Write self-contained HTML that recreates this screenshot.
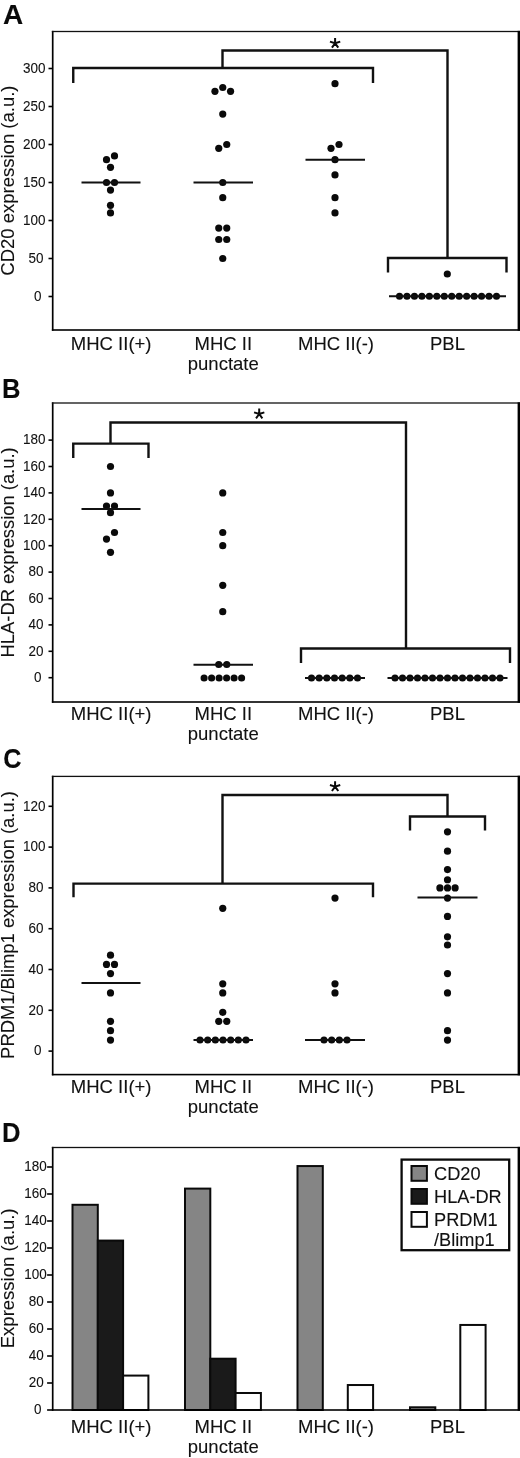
<!DOCTYPE html>
<html><head><meta charset="utf-8"><title>Figure</title>
<style>
html,body{margin:0;padding:0;background:#fff;}
body{width:520px;height:1458px;overflow:hidden;}
svg{display:block;font-family:"Liberation Sans", sans-serif;}
svg text{stroke:#111;stroke-width:0.1px;}
</style></head><body>
<svg width="520" height="1458" viewBox="0 0 520 1458">
<rect width="520" height="1458" fill="#fff"/>
<g opacity="0.999">
<text transform="translate(3.0,24.1) scale(1.0,1)" font-size="28" font-weight="bold" fill="#0a0a0a">A</text>
<rect x="51.85" y="30.85" width="1.7" height="299.9" fill="#000"/>
<rect x="51.85" y="30.85" width="468.15000000000003" height="1.3" fill="#111"/>
<rect x="51.85" y="329.2" width="468.15000000000003" height="1.6" fill="#000"/>
<rect x="517.6" y="30.85" width="2.4" height="299.9" fill="#000"/>
<line x1="48.5" x2="52.7" y1="296.50" y2="296.50" stroke="#000" stroke-width="1.6"/>
<text x="41.6" y="300.70" font-size="14.6" text-anchor="end" fill="#111" textLength="7.5" lengthAdjust="spacingAndGlyphs">0</text>
<line x1="48.5" x2="52.7" y1="258.50" y2="258.50" stroke="#000" stroke-width="1.6"/>
<text x="43.5" y="262.70" font-size="14.6" text-anchor="end" fill="#111" textLength="15.0" lengthAdjust="spacingAndGlyphs">50</text>
<line x1="48.5" x2="52.7" y1="220.50" y2="220.50" stroke="#000" stroke-width="1.6"/>
<text x="45.4" y="224.70" font-size="14.6" text-anchor="end" fill="#111" textLength="22.5" lengthAdjust="spacingAndGlyphs">100</text>
<line x1="48.5" x2="52.7" y1="182.50" y2="182.50" stroke="#000" stroke-width="1.6"/>
<text x="45.4" y="186.70" font-size="14.6" text-anchor="end" fill="#111" textLength="22.5" lengthAdjust="spacingAndGlyphs">150</text>
<line x1="48.5" x2="52.7" y1="144.50" y2="144.50" stroke="#000" stroke-width="1.6"/>
<text x="45.4" y="148.70" font-size="14.6" text-anchor="end" fill="#111" textLength="22.5" lengthAdjust="spacingAndGlyphs">200</text>
<line x1="48.5" x2="52.7" y1="106.50" y2="106.50" stroke="#000" stroke-width="1.6"/>
<text x="45.4" y="110.70" font-size="14.6" text-anchor="end" fill="#111" textLength="22.5" lengthAdjust="spacingAndGlyphs">250</text>
<line x1="48.5" x2="52.7" y1="68.50" y2="68.50" stroke="#000" stroke-width="1.6"/>
<text x="45.4" y="72.70" font-size="14.6" text-anchor="end" fill="#111" textLength="22.5" lengthAdjust="spacingAndGlyphs">300</text>
<text transform="translate(14.2,180.6) rotate(-90)" font-size="18.5" text-anchor="middle" fill="#111">CD20 expression (a.u.)</text>
<text x="111.2" y="349.6" font-size="18.5" text-anchor="middle" fill="#111">MHC II(+)</text>
<text x="223.3" y="349.6" font-size="18.5" text-anchor="middle" fill="#111">MHC II</text>
<text x="223.3" y="369.5" font-size="18.5" text-anchor="middle" fill="#111">punctate</text>
<text x="336" y="349.6" font-size="18.5" text-anchor="middle" fill="#111">MHC II(-)</text>
<text x="447.5" y="349.6" font-size="18.5" text-anchor="middle" fill="#111">PBL</text>
<circle cx="114.50" cy="155.90" r="3.6" fill="#0a0a0a"/>
<circle cx="106.50" cy="159.70" r="3.6" fill="#0a0a0a"/>
<circle cx="110.50" cy="167.30" r="3.6" fill="#0a0a0a"/>
<circle cx="106.50" cy="182.50" r="3.6" fill="#0a0a0a"/>
<circle cx="114.50" cy="182.50" r="3.6" fill="#0a0a0a"/>
<circle cx="110.50" cy="190.10" r="3.6" fill="#0a0a0a"/>
<circle cx="110.50" cy="205.30" r="3.6" fill="#0a0a0a"/>
<circle cx="110.50" cy="212.90" r="3.6" fill="#0a0a0a"/>
<line x1="81.5" x2="140.5" y1="182.5" y2="182.5" stroke="#111" stroke-width="1.9"/>
<circle cx="222.75" cy="87.50" r="3.6" fill="#0a0a0a"/>
<circle cx="214.95" cy="91.30" r="3.6" fill="#0a0a0a"/>
<circle cx="230.55" cy="91.30" r="3.6" fill="#0a0a0a"/>
<circle cx="222.75" cy="114.10" r="3.6" fill="#0a0a0a"/>
<circle cx="226.75" cy="144.50" r="3.6" fill="#0a0a0a"/>
<circle cx="218.75" cy="148.30" r="3.6" fill="#0a0a0a"/>
<circle cx="222.75" cy="182.50" r="3.6" fill="#0a0a0a"/>
<circle cx="222.75" cy="197.70" r="3.6" fill="#0a0a0a"/>
<circle cx="218.75" cy="228.10" r="3.6" fill="#0a0a0a"/>
<circle cx="226.75" cy="228.10" r="3.6" fill="#0a0a0a"/>
<circle cx="218.75" cy="239.50" r="3.6" fill="#0a0a0a"/>
<circle cx="226.75" cy="239.50" r="3.6" fill="#0a0a0a"/>
<circle cx="222.75" cy="258.50" r="3.6" fill="#0a0a0a"/>
<line x1="193.5" x2="253" y1="182.5" y2="182.5" stroke="#111" stroke-width="1.9"/>
<circle cx="335.00" cy="83.70" r="3.6" fill="#0a0a0a"/>
<circle cx="339.00" cy="144.50" r="3.6" fill="#0a0a0a"/>
<circle cx="331.00" cy="148.30" r="3.6" fill="#0a0a0a"/>
<circle cx="335.00" cy="159.70" r="3.6" fill="#0a0a0a"/>
<circle cx="335.00" cy="174.90" r="3.6" fill="#0a0a0a"/>
<circle cx="335.00" cy="197.70" r="3.6" fill="#0a0a0a"/>
<circle cx="335.00" cy="212.90" r="3.6" fill="#0a0a0a"/>
<line x1="305.5" x2="365" y1="159.7" y2="159.7" stroke="#111" stroke-width="1.9"/>
<circle cx="447.30" cy="274.00" r="3.6" fill="#0a0a0a"/>
<circle cx="399.50" cy="296.30" r="3.55" fill="#0a0a0a"/>
<circle cx="406.96" cy="296.30" r="3.55" fill="#0a0a0a"/>
<circle cx="414.42" cy="296.30" r="3.55" fill="#0a0a0a"/>
<circle cx="421.88" cy="296.30" r="3.55" fill="#0a0a0a"/>
<circle cx="429.35" cy="296.30" r="3.55" fill="#0a0a0a"/>
<circle cx="436.81" cy="296.30" r="3.55" fill="#0a0a0a"/>
<circle cx="444.27" cy="296.30" r="3.55" fill="#0a0a0a"/>
<circle cx="451.73" cy="296.30" r="3.55" fill="#0a0a0a"/>
<circle cx="459.19" cy="296.30" r="3.55" fill="#0a0a0a"/>
<circle cx="466.65" cy="296.30" r="3.55" fill="#0a0a0a"/>
<circle cx="474.12" cy="296.30" r="3.55" fill="#0a0a0a"/>
<circle cx="481.58" cy="296.30" r="3.55" fill="#0a0a0a"/>
<circle cx="489.04" cy="296.30" r="3.55" fill="#0a0a0a"/>
<circle cx="496.50" cy="296.30" r="3.55" fill="#0a0a0a"/>
<line x1="389" x2="506" y1="296.3" y2="296.3" stroke="#111" stroke-width="1.9"/>
<path d="M73.25 83 V68 H373 V83" fill="none" stroke="#111" stroke-width="2.4" stroke-linejoin="miter"/>
<path d="M222.5 68 V50.5 H447.5 V258" fill="none" stroke="#111" stroke-width="2.4" stroke-linejoin="miter"/>
<path d="M388 272.5 V258 H506.5 V272.5" fill="none" stroke="#111" stroke-width="2.4" stroke-linejoin="miter"/>
<path d="M335.10 43.30L335.10 37.90M335.10 43.30L340.24 41.63M335.10 43.30L338.27 47.67M335.10 43.30L331.93 47.67M335.10 43.30L329.96 41.63" stroke="#0a0a0a" stroke-width="2.0" fill="none" stroke-linecap="butt"/>
<text transform="translate(2.0,397.6) scale(0.915,1)" font-size="28" font-weight="bold" fill="#0a0a0a">B</text>
<rect x="51.85" y="402.35" width="1.7" height="300.4" fill="#000"/>
<rect x="51.85" y="402.35" width="468.15000000000003" height="1.3" fill="#111"/>
<rect x="51.85" y="701.2" width="468.15000000000003" height="1.6" fill="#000"/>
<rect x="517.6" y="402.35" width="2.4" height="300.4" fill="#000"/>
<line x1="48.5" x2="52.7" y1="677.70" y2="677.70" stroke="#000" stroke-width="1.6"/>
<text x="41.6" y="681.90" font-size="14.6" text-anchor="end" fill="#111" textLength="7.5" lengthAdjust="spacingAndGlyphs">0</text>
<line x1="48.5" x2="52.7" y1="651.30" y2="651.30" stroke="#000" stroke-width="1.6"/>
<text x="43.5" y="655.50" font-size="14.6" text-anchor="end" fill="#111" textLength="15.0" lengthAdjust="spacingAndGlyphs">20</text>
<line x1="48.5" x2="52.7" y1="624.90" y2="624.90" stroke="#000" stroke-width="1.6"/>
<text x="43.5" y="629.10" font-size="14.6" text-anchor="end" fill="#111" textLength="15.0" lengthAdjust="spacingAndGlyphs">40</text>
<line x1="48.5" x2="52.7" y1="598.50" y2="598.50" stroke="#000" stroke-width="1.6"/>
<text x="43.5" y="602.70" font-size="14.6" text-anchor="end" fill="#111" textLength="15.0" lengthAdjust="spacingAndGlyphs">60</text>
<line x1="48.5" x2="52.7" y1="572.10" y2="572.10" stroke="#000" stroke-width="1.6"/>
<text x="43.5" y="576.30" font-size="14.6" text-anchor="end" fill="#111" textLength="15.0" lengthAdjust="spacingAndGlyphs">80</text>
<line x1="48.5" x2="52.7" y1="545.70" y2="545.70" stroke="#000" stroke-width="1.6"/>
<text x="45.4" y="549.90" font-size="14.6" text-anchor="end" fill="#111" textLength="22.5" lengthAdjust="spacingAndGlyphs">100</text>
<line x1="48.5" x2="52.7" y1="519.30" y2="519.30" stroke="#000" stroke-width="1.6"/>
<text x="45.4" y="523.50" font-size="14.6" text-anchor="end" fill="#111" textLength="22.5" lengthAdjust="spacingAndGlyphs">120</text>
<line x1="48.5" x2="52.7" y1="492.90" y2="492.90" stroke="#000" stroke-width="1.6"/>
<text x="45.4" y="497.10" font-size="14.6" text-anchor="end" fill="#111" textLength="22.5" lengthAdjust="spacingAndGlyphs">140</text>
<line x1="48.5" x2="52.7" y1="466.50" y2="466.50" stroke="#000" stroke-width="1.6"/>
<text x="45.4" y="470.70" font-size="14.6" text-anchor="end" fill="#111" textLength="22.5" lengthAdjust="spacingAndGlyphs">160</text>
<line x1="48.5" x2="52.7" y1="440.10" y2="440.10" stroke="#000" stroke-width="1.6"/>
<text x="45.4" y="444.30" font-size="14.6" text-anchor="end" fill="#111" textLength="22.5" lengthAdjust="spacingAndGlyphs">180</text>
<text transform="translate(13.9,552.4) rotate(-90)" font-size="18.35" text-anchor="middle" fill="#111">HLA-DR expression (a.u.)</text>
<text x="111.2" y="719.8" font-size="18.5" text-anchor="middle" fill="#111">MHC II(+)</text>
<text x="223.3" y="719.8" font-size="18.5" text-anchor="middle" fill="#111">MHC II</text>
<text x="223.3" y="739.6999999999999" font-size="18.5" text-anchor="middle" fill="#111">punctate</text>
<text x="336" y="719.8" font-size="18.5" text-anchor="middle" fill="#111">MHC II(-)</text>
<text x="447.5" y="719.8" font-size="18.5" text-anchor="middle" fill="#111">PBL</text>
<circle cx="110.50" cy="466.50" r="3.6" fill="#0a0a0a"/>
<circle cx="110.50" cy="492.90" r="3.6" fill="#0a0a0a"/>
<circle cx="106.50" cy="506.10" r="3.6" fill="#0a0a0a"/>
<circle cx="114.50" cy="506.10" r="3.6" fill="#0a0a0a"/>
<circle cx="110.50" cy="512.70" r="3.6" fill="#0a0a0a"/>
<circle cx="114.50" cy="532.50" r="3.6" fill="#0a0a0a"/>
<circle cx="106.50" cy="539.10" r="3.6" fill="#0a0a0a"/>
<circle cx="110.50" cy="552.30" r="3.6" fill="#0a0a0a"/>
<line x1="81.5" x2="140.5" y1="509" y2="509" stroke="#111" stroke-width="1.9"/>
<circle cx="222.75" cy="492.90" r="3.6" fill="#0a0a0a"/>
<circle cx="222.75" cy="532.50" r="3.6" fill="#0a0a0a"/>
<circle cx="222.75" cy="545.70" r="3.6" fill="#0a0a0a"/>
<circle cx="222.75" cy="585.30" r="3.6" fill="#0a0a0a"/>
<circle cx="222.75" cy="611.70" r="3.6" fill="#0a0a0a"/>
<circle cx="218.75" cy="664.50" r="3.6" fill="#0a0a0a"/>
<circle cx="226.75" cy="664.50" r="3.6" fill="#0a0a0a"/>
<circle cx="204.10" cy="678.00" r="3.55" fill="#0a0a0a"/>
<circle cx="211.60" cy="678.00" r="3.55" fill="#0a0a0a"/>
<circle cx="219.10" cy="678.00" r="3.55" fill="#0a0a0a"/>
<circle cx="226.60" cy="678.00" r="3.55" fill="#0a0a0a"/>
<circle cx="234.10" cy="678.00" r="3.55" fill="#0a0a0a"/>
<circle cx="241.60" cy="678.00" r="3.55" fill="#0a0a0a"/>
<line x1="193.5" x2="253" y1="664.7" y2="664.7" stroke="#111" stroke-width="1.9"/>
<circle cx="311.50" cy="678.00" r="3.55" fill="#0a0a0a"/>
<circle cx="319.17" cy="678.00" r="3.55" fill="#0a0a0a"/>
<circle cx="326.83" cy="678.00" r="3.55" fill="#0a0a0a"/>
<circle cx="334.50" cy="678.00" r="3.55" fill="#0a0a0a"/>
<circle cx="342.17" cy="678.00" r="3.55" fill="#0a0a0a"/>
<circle cx="349.83" cy="678.00" r="3.55" fill="#0a0a0a"/>
<circle cx="357.50" cy="678.00" r="3.55" fill="#0a0a0a"/>
<line x1="305" x2="365" y1="678" y2="678" stroke="#111" stroke-width="1.9"/>
<circle cx="395.00" cy="678.00" r="3.55" fill="#0a0a0a"/>
<circle cx="402.50" cy="678.00" r="3.55" fill="#0a0a0a"/>
<circle cx="410.00" cy="678.00" r="3.55" fill="#0a0a0a"/>
<circle cx="417.50" cy="678.00" r="3.55" fill="#0a0a0a"/>
<circle cx="425.00" cy="678.00" r="3.55" fill="#0a0a0a"/>
<circle cx="432.50" cy="678.00" r="3.55" fill="#0a0a0a"/>
<circle cx="440.00" cy="678.00" r="3.55" fill="#0a0a0a"/>
<circle cx="447.50" cy="678.00" r="3.55" fill="#0a0a0a"/>
<circle cx="455.00" cy="678.00" r="3.55" fill="#0a0a0a"/>
<circle cx="462.50" cy="678.00" r="3.55" fill="#0a0a0a"/>
<circle cx="470.00" cy="678.00" r="3.55" fill="#0a0a0a"/>
<circle cx="477.50" cy="678.00" r="3.55" fill="#0a0a0a"/>
<circle cx="485.00" cy="678.00" r="3.55" fill="#0a0a0a"/>
<circle cx="492.50" cy="678.00" r="3.55" fill="#0a0a0a"/>
<circle cx="500.00" cy="678.00" r="3.55" fill="#0a0a0a"/>
<line x1="387.5" x2="507.5" y1="678" y2="678" stroke="#111" stroke-width="1.9"/>
<path d="M73.25 458 V443.6 H148.5 V458" fill="none" stroke="#111" stroke-width="2.4" stroke-linejoin="miter"/>
<path d="M110.5 443.6 V422.5 H406 V648.5" fill="none" stroke="#111" stroke-width="2.4" stroke-linejoin="miter"/>
<path d="M301 663 V648.5 H510 V663" fill="none" stroke="#111" stroke-width="2.4" stroke-linejoin="miter"/>
<path d="M259.20 414.00L259.20 408.60M259.20 414.00L264.34 412.33M259.20 414.00L262.37 418.37M259.20 414.00L256.03 418.37M259.20 414.00L254.06 412.33" stroke="#0a0a0a" stroke-width="2.0" fill="none" stroke-linecap="butt"/>
<text transform="translate(3.2,768.3) scale(0.9,1)" font-size="28" font-weight="bold" fill="#0a0a0a">C</text>
<rect x="51.85" y="775.75" width="1.7" height="299.5999999999999" fill="#000"/>
<rect x="51.85" y="775.75" width="468.15000000000003" height="1.3" fill="#111"/>
<rect x="51.85" y="1073.8" width="468.15000000000003" height="1.6" fill="#000"/>
<rect x="517.6" y="775.75" width="2.4" height="299.5999999999999" fill="#000"/>
<line x1="48.5" x2="52.7" y1="1051.10" y2="1051.10" stroke="#000" stroke-width="1.6"/>
<text x="41.6" y="1055.30" font-size="14.6" text-anchor="end" fill="#111" textLength="7.5" lengthAdjust="spacingAndGlyphs">0</text>
<line x1="48.5" x2="52.7" y1="1010.30" y2="1010.30" stroke="#000" stroke-width="1.6"/>
<text x="43.5" y="1014.50" font-size="14.6" text-anchor="end" fill="#111" textLength="15.0" lengthAdjust="spacingAndGlyphs">20</text>
<line x1="48.5" x2="52.7" y1="969.50" y2="969.50" stroke="#000" stroke-width="1.6"/>
<text x="43.5" y="973.70" font-size="14.6" text-anchor="end" fill="#111" textLength="15.0" lengthAdjust="spacingAndGlyphs">40</text>
<line x1="48.5" x2="52.7" y1="928.70" y2="928.70" stroke="#000" stroke-width="1.6"/>
<text x="43.5" y="932.90" font-size="14.6" text-anchor="end" fill="#111" textLength="15.0" lengthAdjust="spacingAndGlyphs">60</text>
<line x1="48.5" x2="52.7" y1="887.90" y2="887.90" stroke="#000" stroke-width="1.6"/>
<text x="43.5" y="892.10" font-size="14.6" text-anchor="end" fill="#111" textLength="15.0" lengthAdjust="spacingAndGlyphs">80</text>
<line x1="48.5" x2="52.7" y1="847.10" y2="847.10" stroke="#000" stroke-width="1.6"/>
<text x="45.4" y="851.30" font-size="14.6" text-anchor="end" fill="#111" textLength="22.5" lengthAdjust="spacingAndGlyphs">100</text>
<line x1="48.5" x2="52.7" y1="806.30" y2="806.30" stroke="#000" stroke-width="1.6"/>
<text x="45.4" y="810.50" font-size="14.6" text-anchor="end" fill="#111" textLength="22.5" lengthAdjust="spacingAndGlyphs">120</text>
<text transform="translate(13.7,925) rotate(-90)" font-size="18.4" text-anchor="middle" fill="#111">PRDM1/Blimp1 expression (a.u.)</text>
<text x="111.2" y="1092.7" font-size="18.5" text-anchor="middle" fill="#111">MHC II(+)</text>
<text x="223.3" y="1092.7" font-size="18.5" text-anchor="middle" fill="#111">MHC II</text>
<text x="223.3" y="1112.6000000000001" font-size="18.5" text-anchor="middle" fill="#111">punctate</text>
<text x="336" y="1092.7" font-size="18.5" text-anchor="middle" fill="#111">MHC II(-)</text>
<text x="447.5" y="1092.7" font-size="18.5" text-anchor="middle" fill="#111">PBL</text>
<circle cx="110.50" cy="955.22" r="3.6" fill="#0a0a0a"/>
<circle cx="106.50" cy="964.40" r="3.6" fill="#0a0a0a"/>
<circle cx="114.50" cy="964.40" r="3.6" fill="#0a0a0a"/>
<circle cx="110.50" cy="973.58" r="3.6" fill="#0a0a0a"/>
<circle cx="110.50" cy="992.96" r="3.6" fill="#0a0a0a"/>
<circle cx="110.50" cy="1021.32" r="3.6" fill="#0a0a0a"/>
<circle cx="110.50" cy="1030.70" r="3.6" fill="#0a0a0a"/>
<circle cx="110.50" cy="1040.08" r="3.6" fill="#0a0a0a"/>
<line x1="81.5" x2="140.5" y1="983" y2="983" stroke="#111" stroke-width="1.9"/>
<circle cx="222.75" cy="908.30" r="3.6" fill="#0a0a0a"/>
<circle cx="222.75" cy="983.78" r="3.6" fill="#0a0a0a"/>
<circle cx="222.75" cy="992.96" r="3.6" fill="#0a0a0a"/>
<circle cx="222.75" cy="1012.34" r="3.6" fill="#0a0a0a"/>
<circle cx="218.75" cy="1021.32" r="3.6" fill="#0a0a0a"/>
<circle cx="226.75" cy="1021.32" r="3.6" fill="#0a0a0a"/>
<circle cx="200.00" cy="1040.00" r="3.55" fill="#0a0a0a"/>
<circle cx="207.67" cy="1040.00" r="3.55" fill="#0a0a0a"/>
<circle cx="215.33" cy="1040.00" r="3.55" fill="#0a0a0a"/>
<circle cx="223.00" cy="1040.00" r="3.55" fill="#0a0a0a"/>
<circle cx="230.67" cy="1040.00" r="3.55" fill="#0a0a0a"/>
<circle cx="238.33" cy="1040.00" r="3.55" fill="#0a0a0a"/>
<circle cx="246.00" cy="1040.00" r="3.55" fill="#0a0a0a"/>
<line x1="193.5" x2="253" y1="1040" y2="1040" stroke="#111" stroke-width="1.9"/>
<circle cx="335.00" cy="898.10" r="3.6" fill="#0a0a0a"/>
<circle cx="335.00" cy="983.78" r="3.6" fill="#0a0a0a"/>
<circle cx="335.00" cy="992.96" r="3.6" fill="#0a0a0a"/>
<circle cx="324.00" cy="1040.00" r="3.55" fill="#0a0a0a"/>
<circle cx="331.67" cy="1040.00" r="3.55" fill="#0a0a0a"/>
<circle cx="339.33" cy="1040.00" r="3.55" fill="#0a0a0a"/>
<circle cx="347.00" cy="1040.00" r="3.55" fill="#0a0a0a"/>
<line x1="305" x2="365" y1="1040" y2="1040" stroke="#111" stroke-width="1.9"/>
<circle cx="447.50" cy="831.80" r="3.6" fill="#0a0a0a"/>
<circle cx="447.50" cy="851.18" r="3.6" fill="#0a0a0a"/>
<circle cx="447.50" cy="869.54" r="3.6" fill="#0a0a0a"/>
<circle cx="447.50" cy="879.74" r="3.6" fill="#0a0a0a"/>
<circle cx="439.90" cy="887.90" r="3.6" fill="#0a0a0a"/>
<circle cx="447.50" cy="887.90" r="3.6" fill="#0a0a0a"/>
<circle cx="455.10" cy="887.90" r="3.6" fill="#0a0a0a"/>
<circle cx="447.50" cy="898.10" r="3.6" fill="#0a0a0a"/>
<circle cx="447.50" cy="916.46" r="3.6" fill="#0a0a0a"/>
<circle cx="447.50" cy="936.86" r="3.6" fill="#0a0a0a"/>
<circle cx="447.50" cy="945.02" r="3.6" fill="#0a0a0a"/>
<circle cx="447.50" cy="973.58" r="3.6" fill="#0a0a0a"/>
<circle cx="447.50" cy="992.96" r="3.6" fill="#0a0a0a"/>
<circle cx="447.50" cy="1030.70" r="3.6" fill="#0a0a0a"/>
<circle cx="447.50" cy="1040.08" r="3.6" fill="#0a0a0a"/>
<line x1="417.5" x2="477.5" y1="897.5" y2="897.5" stroke="#111" stroke-width="1.9"/>
<path d="M73.5 897.3 V883.6 H373 V897.3" fill="none" stroke="#111" stroke-width="2.4" stroke-linejoin="miter"/>
<path d="M222.5 883.6 V795 H447.5 V816.5" fill="none" stroke="#111" stroke-width="2.4" stroke-linejoin="miter"/>
<path d="M410 830.5 V816.5 H485 V830.5" fill="none" stroke="#111" stroke-width="2.4" stroke-linejoin="miter"/>
<path d="M335.10 786.60L335.10 781.20M335.10 786.60L340.24 784.93M335.10 786.60L338.27 790.97M335.10 786.60L331.93 790.97M335.10 786.60L329.96 784.93" stroke="#0a0a0a" stroke-width="2.0" fill="none" stroke-linecap="butt"/>
<text transform="translate(2.0,1141.9) scale(0.917,1)" font-size="28" font-weight="bold" fill="#0a0a0a">D</text>
<line x1="47.1" x2="52.7" y1="1383.00" y2="1383.00" stroke="#000" stroke-width="1.6"/>
<text x="43.699999999999996" y="1387.20" font-size="14.6" text-anchor="end" fill="#111" textLength="15.0" lengthAdjust="spacingAndGlyphs">20</text>
<line x1="47.1" x2="52.7" y1="1356.00" y2="1356.00" stroke="#000" stroke-width="1.6"/>
<text x="43.699999999999996" y="1360.20" font-size="14.6" text-anchor="end" fill="#111" textLength="15.0" lengthAdjust="spacingAndGlyphs">40</text>
<line x1="47.1" x2="52.7" y1="1329.00" y2="1329.00" stroke="#000" stroke-width="1.6"/>
<text x="43.699999999999996" y="1333.20" font-size="14.6" text-anchor="end" fill="#111" textLength="15.0" lengthAdjust="spacingAndGlyphs">60</text>
<line x1="47.1" x2="52.7" y1="1302.00" y2="1302.00" stroke="#000" stroke-width="1.6"/>
<text x="43.699999999999996" y="1306.20" font-size="14.6" text-anchor="end" fill="#111" textLength="15.0" lengthAdjust="spacingAndGlyphs">80</text>
<line x1="47.1" x2="52.7" y1="1275.00" y2="1275.00" stroke="#000" stroke-width="1.6"/>
<text x="46.8" y="1279.20" font-size="14.6" text-anchor="end" fill="#111" textLength="22.5" lengthAdjust="spacingAndGlyphs">100</text>
<line x1="47.1" x2="52.7" y1="1248.00" y2="1248.00" stroke="#000" stroke-width="1.6"/>
<text x="46.8" y="1252.20" font-size="14.6" text-anchor="end" fill="#111" textLength="22.5" lengthAdjust="spacingAndGlyphs">120</text>
<line x1="47.1" x2="52.7" y1="1221.00" y2="1221.00" stroke="#000" stroke-width="1.6"/>
<text x="46.8" y="1225.20" font-size="14.6" text-anchor="end" fill="#111" textLength="22.5" lengthAdjust="spacingAndGlyphs">140</text>
<line x1="47.1" x2="52.7" y1="1194.00" y2="1194.00" stroke="#000" stroke-width="1.6"/>
<text x="46.8" y="1198.20" font-size="14.6" text-anchor="end" fill="#111" textLength="22.5" lengthAdjust="spacingAndGlyphs">160</text>
<line x1="47.1" x2="52.7" y1="1167.00" y2="1167.00" stroke="#000" stroke-width="1.6"/>
<text x="46.8" y="1171.20" font-size="14.6" text-anchor="end" fill="#111" textLength="22.5" lengthAdjust="spacingAndGlyphs">180</text>
<line x1="47.1" x2="52.7" y1="1410.00" y2="1410.00" stroke="#000" stroke-width="1.6"/>
<text x="41.6" y="1414.20" font-size="14.6" text-anchor="end" fill="#111" textLength="7.5" lengthAdjust="spacingAndGlyphs">0</text>
<rect x="72.5" y="1204.80" width="25.3" height="205.20" fill="#858585" stroke="#0a0a0a" stroke-width="2"/>
<rect x="97.8" y="1240.58" width="25.3" height="169.43" fill="#1a1a1a" stroke="#0a0a0a" stroke-width="2"/>
<rect x="123.1" y="1375.58" width="25.3" height="34.43" fill="#fff" stroke="#0a0a0a" stroke-width="2"/>
<rect x="185" y="1188.60" width="25.3" height="221.40" fill="#858585" stroke="#0a0a0a" stroke-width="2"/>
<rect x="210.3" y="1358.70" width="25.3" height="51.30" fill="#1a1a1a" stroke="#0a0a0a" stroke-width="2"/>
<rect x="235.6" y="1392.99" width="25.3" height="17.01" fill="#fff" stroke="#0a0a0a" stroke-width="2"/>
<rect x="297.5" y="1166.06" width="25.3" height="243.94" fill="#858585" stroke="#0a0a0a" stroke-width="2"/>
<rect x="347.8" y="1385.03" width="25.3" height="24.98" fill="#fff" stroke="#0a0a0a" stroke-width="2"/>
<rect x="410" y="1407.30" width="25.3" height="2.70" fill="#858585" stroke="#0a0a0a" stroke-width="2"/>
<rect x="460.3" y="1324.95" width="25.3" height="85.05" fill="#fff" stroke="#0a0a0a" stroke-width="2"/>
<rect x="51.85" y="1146.85" width="1.7" height="263.9" fill="#000"/>
<rect x="51.85" y="1146.85" width="468.15000000000003" height="1.3" fill="#111"/>
<rect x="51.85" y="1409.2" width="468.15000000000003" height="1.6" fill="#000"/>
<rect x="517.6" y="1146.85" width="2.4" height="263.9" fill="#000"/>
<text transform="translate(14.2,1278.3) rotate(-90)" font-size="18.5" text-anchor="middle" fill="#111">Expression (a.u.)</text>
<text x="111.2" y="1433.2" font-size="18.5" text-anchor="middle" fill="#111">MHC II(+)</text>
<text x="223.3" y="1433.2" font-size="18.5" text-anchor="middle" fill="#111">MHC II</text>
<text x="223.3" y="1453.1000000000001" font-size="18.5" text-anchor="middle" fill="#111">punctate</text>
<text x="336" y="1433.2" font-size="18.5" text-anchor="middle" fill="#111">MHC II(-)</text>
<text x="447.5" y="1433.2" font-size="18.5" text-anchor="middle" fill="#111">PBL</text>
<rect x="401.6" y="1159.6" width="107.6" height="90.6" fill="#fff" stroke="#0a0a0a" stroke-width="2.3"/>
<rect x="411.5" y="1166" width="15.4" height="14.8" fill="#858585" stroke="#0a0a0a" stroke-width="2"/>
<rect x="411.5" y="1189" width="15.4" height="14.8" fill="#1a1a1a" stroke="#0a0a0a" stroke-width="2"/>
<rect x="411.5" y="1212" width="15.4" height="14.8" fill="#fff" stroke="#0a0a0a" stroke-width="2"/>
<text x="434" y="1180" font-size="18.2" fill="#111">CD20</text>
<text x="434" y="1202.6" font-size="18.2" fill="#111">HLA-DR</text>
<text x="434" y="1226" font-size="18.2" fill="#111">PRDM1</text>
<text x="434" y="1246.4" font-size="18.2" fill="#111">/Blimp1</text>
</g>
</svg>
</body></html>
